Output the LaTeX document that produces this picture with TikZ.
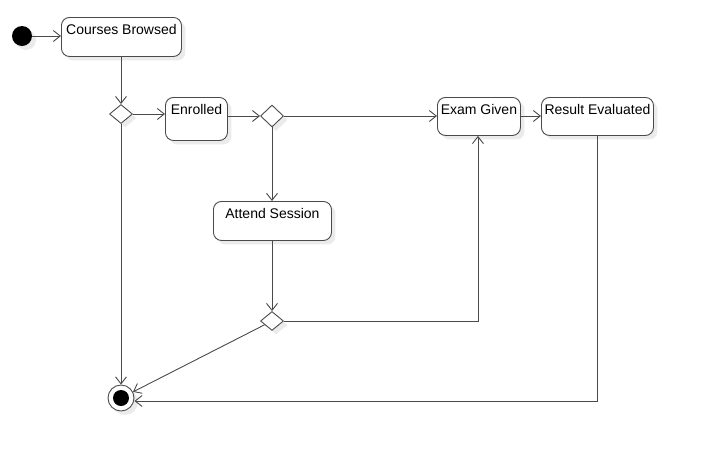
\documentclass[tikz,border=0pt]{standalone}
\usepackage{fontspec}
\setmainfont{Liberation Sans}
\usetikzlibrary{arrows.meta, shapes.geometric, shadows}
\definecolor{lineclr}{HTML}{4A4A4A}
\tikzset{
	soft/.style={drop shadow={shadow xshift=4pt, shadow yshift=-4pt, fill=black, opacity=0.08}}
}
\tikzset{
	activity/.style={draw=lineclr, fill=white, rounded corners=8pt, soft, font=\fontsize{14}{16}\selectfont,
	  inner xsep=2pt, inner ysep=3pt, text height=14pt, anchor=north west}
}
\tikzset{
	choice/.style={diamond, draw=lineclr, fill=white, soft, inner sep=0pt, minimum width=23pt, minimum height=19pt}
}
\tikzset{
	flow/.style={draw=lineclr, -{Straight Barb[length=7pt,width=11pt]}}
}

\begin{document}
\begin{tikzpicture}[x=1pt, y=-1pt, line width=0.9pt]
      \useasboundingbox (0,0) rectangle (717,456);
      % start and end
      \node[circle, fill=black, soft, minimum size=20pt, inner sep=0pt] (init) at (22,36) {};
      \node[circle, draw=lineclr, fill=white, soft, minimum size=26pt, inner sep=0pt] (final) at (121,398) {};
      \fill (final.center) circle (8pt);
      % activities
      \node[activity, minimum width=120pt, text depth=19pt] (browsed) at (61,17) {Courses Browsed};
      \node[activity, minimum width=62pt, text depth=23pt] (enrolled) at (165,97) {Enrolled};
      \node[activity, minimum width=83pt, text depth=18pt] (exam) at (437,97) {Exam Given};
      \node[activity, minimum width=112pt, text depth=18pt] (result) at (541,97) {Result Evaluated};
      \node[activity, minimum width=118pt, text depth=19pt] (attend) at (213,201) {Attend Session};
      % decisions
      \node[choice] (d1) at (121,114) {};
      \node[choice, minimum height=22pt] (d2) at (272,116) {};
      \node[choice] (d3) at (272,321) {};
      % flows
      \draw[flow] (init) -- (browsed.west |- init);
      \draw[flow] (browsed.south -| d1) -- (d1);
      \draw[flow] (d1.east) -- (d1.east -| enrolled.west);
      \draw[flow] (enrolled.east |- d2) -- (d2.west);
      \draw[flow] (d2.east) -- (d2.east -| exam.west);
      \draw[flow] (exam.east |- d2) -- (result.west |- d2);
      \draw[flow] (d2) -- (attend.north -| d2);
      \draw[flow] (attend.south -| d3) -- (d3);
      \draw[flow] (d3.east) -| ([xshift=-1pt]exam.south);
      \draw[flow] (d3) -- (final);
      \draw[flow] (d1) -- (final);
      \draw[flow] (result.south) |- ([yshift=-3pt]final.east);
    \end{tikzpicture}
\end{document}
